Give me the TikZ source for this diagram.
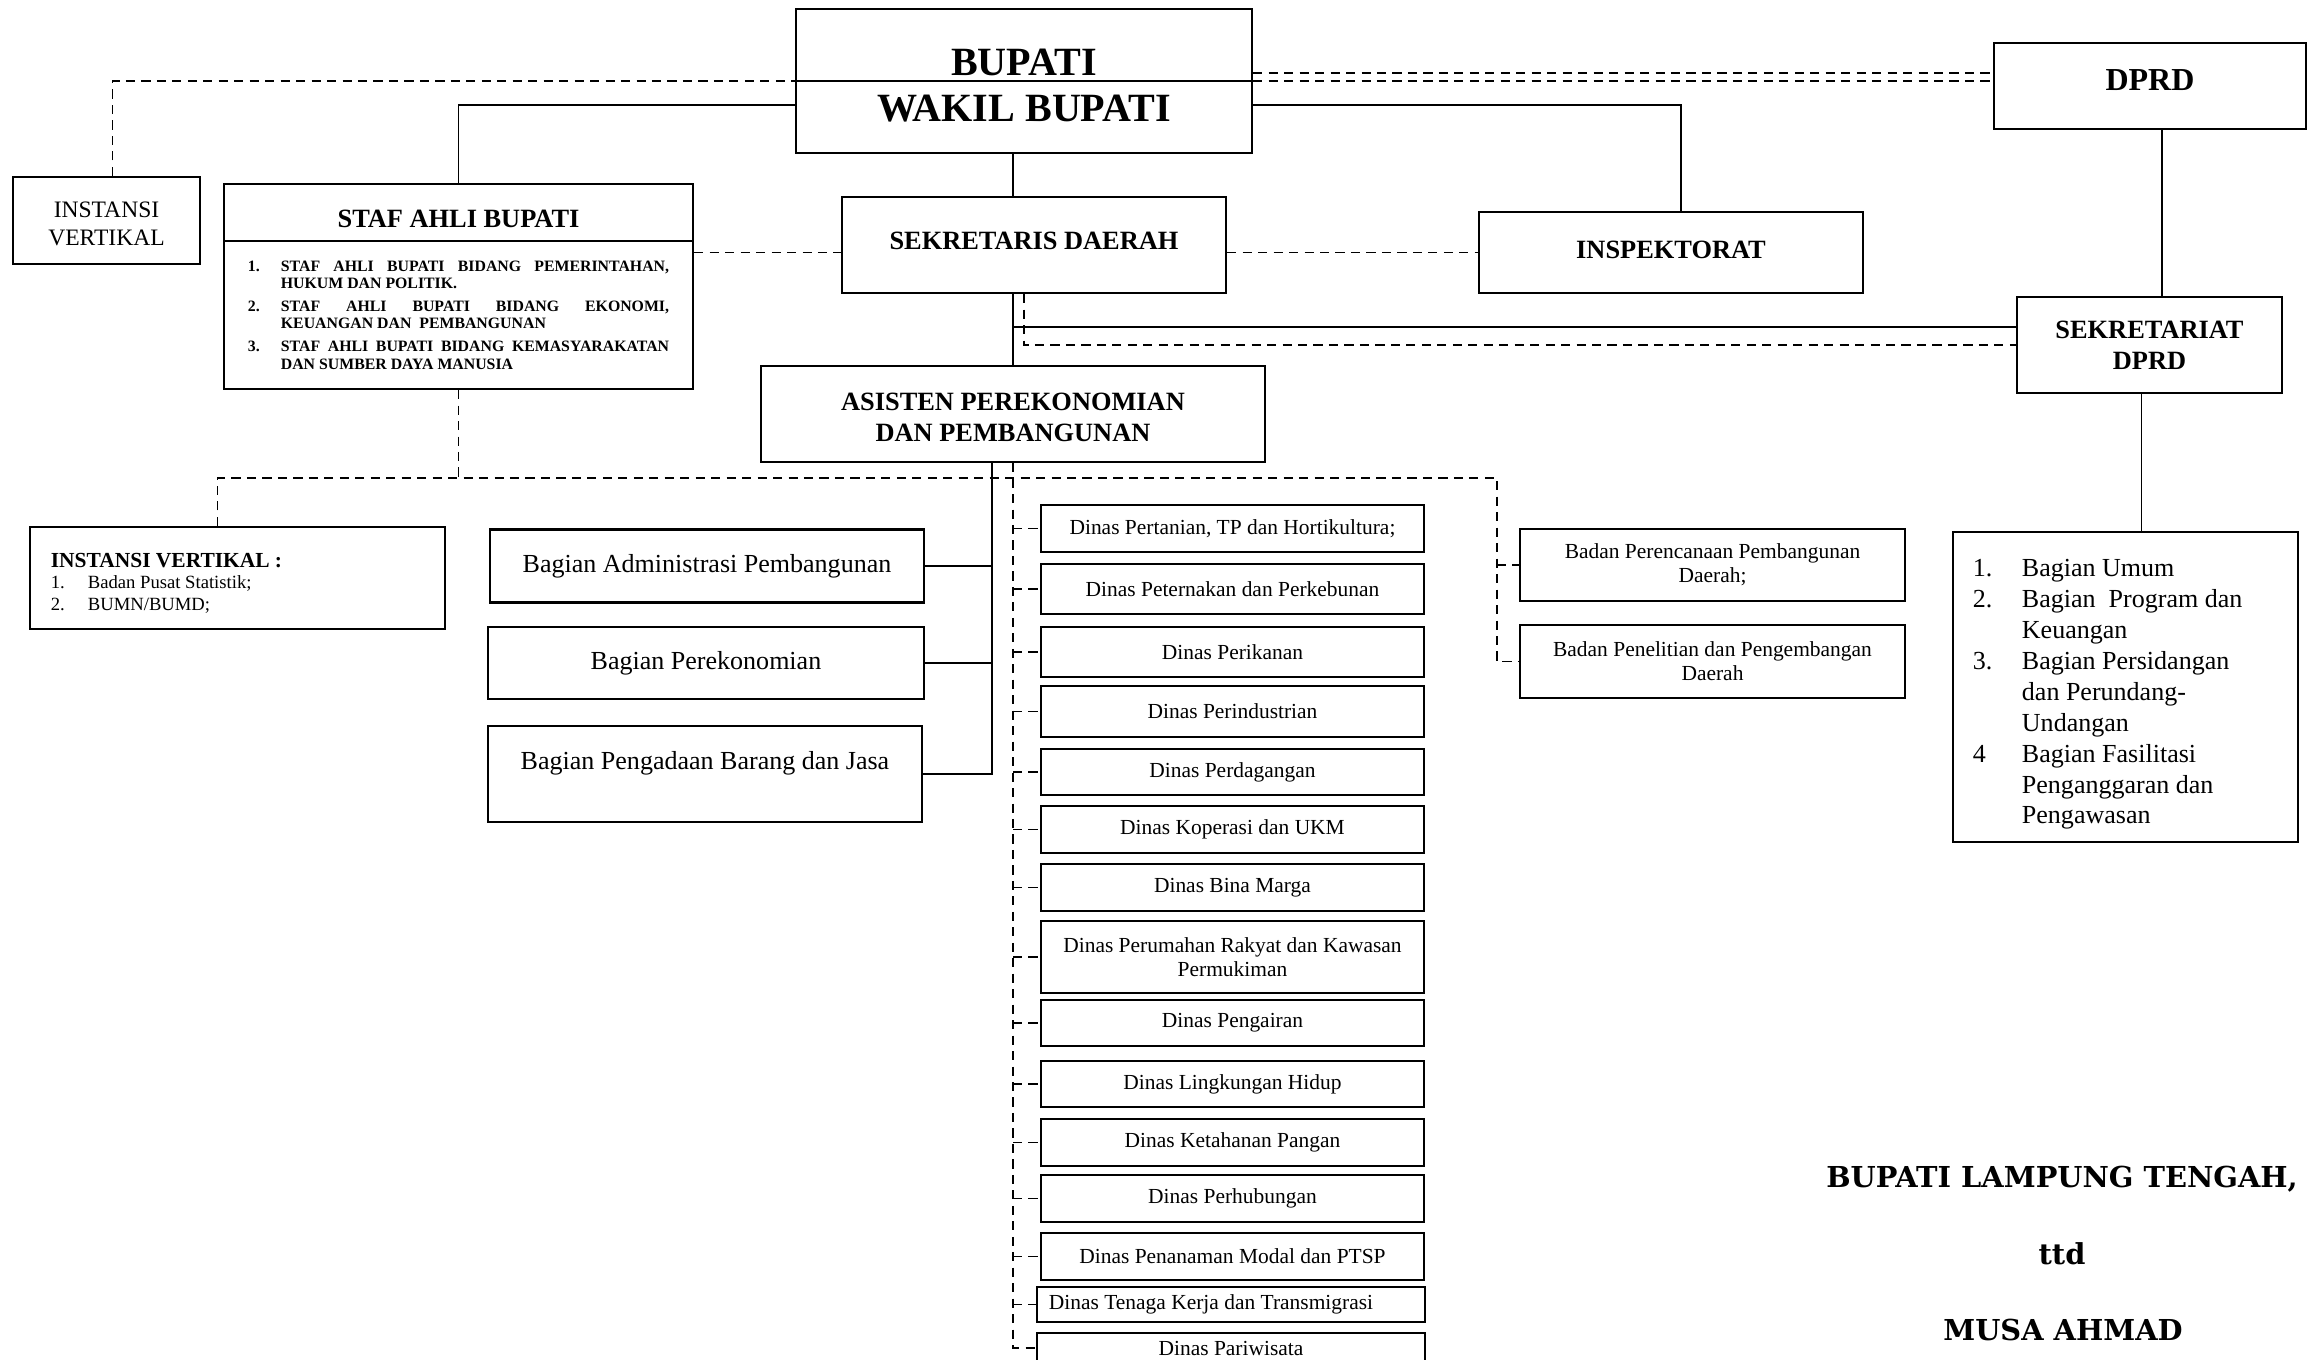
\documentclass[tikz,border=0pt]{standalone}
\usepackage{fontspec}
\setmainfont{Liberation Serif}
\newfontfamily\ttdfont{DejaVu Serif}
\newcommand{\fbup}{\fontsize{11.4}{13}\selectfont\bfseries}
\newcommand{\fjdl}{\fontsize{7.5}{8.9}\selectfont\bfseries}
\newcommand{\fbag}{\fontsize{7.4}{9}\selectfont}
\newcommand{\fdns}{\fontsize{6.1}{6.8}\selectfont}
\newcommand{\fstaf}{\fontsize{4.5}{4.9}\selectfont\bfseries}
\newcommand{\fttd}{\ttdfont\fontsize{8.2}{10}\selectfont\bfseries}
\newcommand{\butir}[2]{\hangindent=0.33cm\hangafter=1\noindent\makebox[0.33cm][l]{#1}#2\par}
\newcommand{\geser}[2]{\raisebox{#1}[\height][\depth]{#2}}

\begin{document}
\begin{tikzpicture}[x=0.01cm,y=-0.01cm,
  kotak/.style={draw,line width=0.6pt,inner sep=0pt,align=center},
  garis/.style={line width=0.45pt},
  putus/.style={line width=0.45pt,dash pattern=on 2.6pt off 1.8pt}]
  \useasboundingbox (0,0) rectangle (2314,1360);
  \clip (0,0) rectangle (2314,1360);
  % pimpinan
  \node[kotak,font=\fbup,minimum width=4.56cm,minimum height=1.44cm] (bupati) at (1024,81) {\geser{-0.045cm}{BUPATI}\\\geser{-0.045cm}{WAKIL BUPATI}};
  \draw[line width=0.6pt] (bupati.west) -- (bupati.east);
  \node[kotak,font=\fontsize{9.1}{10}\selectfont\bfseries,minimum width=3.12cm,minimum height=0.86cm] (dprd) at (2150,86) {\geser{0.06cm}{DPRD}};
  \node[kotak,font=\fontsize{6.7}{8}\selectfont,minimum width=1.87cm,minimum height=0.87cm] (instansi) at (106.5,220.5) {\geser{-0.03cm}{INSTANSI}\\\geser{-0.03cm}{VERTIKAL}};
  \node[kotak,font=\fjdl,minimum width=4.69cm,minimum height=0.57cm] (staf) at (458.5,212.5) {\geser{-0.06cm}{STAF AHLI BUPATI}};
  \node[kotak,font=\fstaf,align=justify,text width=4.21cm,inner xsep=0.24cm,minimum width=4.69cm,minimum height=1.48cm] (stafisi) at (458.5,315) {\setlength{\parskip}{1.7pt}%
    \butir{1.}{STAF AHLI BUPATI BIDANG PEMERINTAHAN,\linebreak HUKUM DAN POLITIK.}
    \butir{2.}{STAF AHLI BUPATI BIDANG EKONOMI,\linebreak KEUANGAN DAN\ \ PEMBANGUNAN}
    \butir{3.}{STAF AHLI BUPATI BIDANG KEMASYARAKATAN\linebreak DAN SUMBER DAYA MANUSIA}};
  \node[kotak,font=\fjdl,minimum width=3.84cm,minimum height=0.96cm] (sekda) at (1034,245) {\geser{0.045cm}{SEKRETARIS DAERAH}};
  \node[kotak,font=\fjdl,minimum width=3.84cm,minimum height=0.81cm] (inspektorat) at (1671,252.5) {\geser{0.03cm}{INSPEKTORAT}};
  \node[kotak,font=\fjdl,minimum width=2.65cm,minimum height=0.96cm] (sekdprd) at (2149.5,345) {SEKRETARIAT\\DPRD};
  \node[kotak,font=\fjdl,minimum width=5.04cm,minimum height=0.96cm] (asisten) at (1013,414) {\geser{-0.035cm}{ASISTEN PEREKONOMIAN}\\\geser{-0.035cm}{DAN PEMBANGUNAN}};

  % kiri
  \node[kotak,font=\fontsize{5.3}{6.2}\selectfont,align=flush left,text width=3.73cm,inner xsep=0.21cm,minimum width=4.15cm,minimum height=1.02cm] (instansi2) at (237.5,578) {%
    \geser{-0.065cm}{\begin{tabular}{@{}p{0.37cm}@{}l@{}}
      \multicolumn{2}{@{}l@{}}{\fontsize{6.1}{7.5}\selectfont\bfseries INSTANSI VERTIKAL :}\\
      1. & Badan Pusat Statistik;\\
      2. & BUMN/BUMD;
    \end{tabular}}};
  \node[kotak,font=\fbag,minimum width=4.34cm,minimum height=0.73cm] (bagadm) at (707,566) {Bagian Administrasi Pembangunan};
  \node[kotak,font=\fbag,minimum width=4.35cm,minimum height=0.72cm] (bagek) at (706,663) {Bagian Perekonomian};
  \node[kotak,font=\fbag,text depth=0.28cm,minimum width=4.34cm,minimum height=0.96cm] (bagpeng) at (705,774) {Bagian Pengadaan Barang dan Jasa};

  % dinas
  \node[kotak,font=\fdns,minimum width=3.83cm,minimum height=0.47cm] (pertanian) at (1232.5,528.5) {Dinas Pertanian, TP dan Hortikultura;};
  \node[kotak,font=\fdns,minimum width=3.83cm,minimum height=0.50cm] (peternakan) at (1232.5,589) {Dinas Peternakan dan Perkebunan};
  \node[kotak,font=\fdns,minimum width=3.83cm,minimum height=0.50cm] (perikanan) at (1232.5,652) {Dinas Perikanan};
  \node[kotak,font=\fdns,minimum width=3.83cm,minimum height=0.51cm] (perindustrian) at (1232.5,711.5) {Dinas Perindustrian};
  \node[kotak,font=\fdns,minimum width=3.83cm,minimum height=0.46cm] (perdagangan) at (1232.5,772) {Dinas Perdagangan};
  \node[kotak,font=\fdns,minimum width=3.83cm,minimum height=0.47cm] (koperasi) at (1232.5,829.5) {Dinas Koperasi dan UKM};
  \node[kotak,font=\fdns,minimum width=3.83cm,minimum height=0.47cm] (binamarga) at (1232.5,887.5) {Dinas Bina Marga};
  \node[kotak,font=\fdns,minimum width=3.83cm,minimum height=0.72cm] (perumahan) at (1232.5,957) {Dinas Perumahan Rakyat dan Kawasan\\Permukiman};
  \node[kotak,font=\fdns,minimum width=3.83cm,minimum height=0.46cm] (pengairan) at (1232.5,1023) {Dinas Pengairan};
  \node[kotak,font=\fdns,minimum width=3.83cm,minimum height=0.46cm] (lingkungan) at (1232.5,1084) {Dinas Lingkungan Hidup};
  \node[kotak,font=\fdns,minimum width=3.83cm,minimum height=0.47cm] (ketahanan) at (1232.5,1142.5) {Dinas Ketahanan Pangan};
  \node[kotak,font=\fdns,minimum width=3.83cm,minimum height=0.47cm] (perhubungan) at (1232.5,1198.5) {Dinas Perhubungan};
  \node[kotak,font=\fdns,minimum width=3.83cm,minimum height=0.47cm] (penanaman) at (1232.5,1256.5) {Dinas Penanaman Modal dan PTSP};
  \node[kotak,font=\fdns,align=flush left,text width=3.64cm,inner xsep=0.12cm,minimum width=3.88cm,minimum height=0.35cm] (tenagakerja) at (1231,1304.5) {Dinas Tenaga Kerja dan Transmigrasi};
  \node[kotak,font=\fdns,minimum width=3.88cm,minimum height=0.30cm] (pariwisata) at (1231,1348) {Dinas Pariwisata};

  % badan
  \node[kotak,font=\fdns,minimum width=3.85cm,minimum height=0.72cm] (perencanaan) at (1712.5,565) {Badan Perencanaan Pembangunan\\Daerah;};
  \node[kotak,font=\fdns,minimum width=3.85cm,minimum height=0.73cm] (penelitian) at (1712.5,661.5) {Badan Penelitian dan Pengembangan\\Daerah};

  % sekretariat dprd
  \node[kotak,font=\fontsize{7.4}{8.8}\selectfont,align=flush left,text width=3.05cm,inner xsep=0.2cm,minimum width=3.45cm,minimum height=3.10cm] (bagdprd) at (2125.5,687) {%
    \geser{-0.07cm}{\begin{tabular}{@{}p{0.49cm}@{}l@{}}
      1. & Bagian Umum\\
      2. & Bagian\ \ Program dan\\
         & Keuangan\\
      3. & Bagian Persidangan\\
         & dan Perundang-\\
         & Undangan\\
      4  & Bagian Fasilitasi\\
         & Penganggaran dan\\
         & Pengawasan
    \end{tabular}}};

  % tanda tangan
  \node[font=\fttd] (jabatan) at (2062,1179) {BUPATI LAMPUNG TENGAH,};
  \node[font=\fttd] (ttd) at (2062,1254) {ttd};
  \node[font=\fttd] (nama) at (2063,1330) {MUSA AHMAD};

  % garis atas
  \draw[putus] ([xshift=0.06cm]instansi.north) |- (bupati.west);
  \draw[garis] (staf.north) |- ([yshift=-0.24cm]bupati.west);
  \draw[putus] (bupati.east) -- (bupati.east -| dprd.west);
  \draw[putus] ([yshift=0.08cm]bupati.east) -- ([yshift=0.08cm]bupati.east -| dprd.west);
  \draw[garis] ([yshift=-0.24cm]bupati.east) -| ([xshift=0.1cm]inspektorat.north);
  \draw[garis] (bupati.south -| asisten.north) -- (sekda.north -| asisten.north);
  \draw[putus] (stafisi.east |- inspektorat.west) -- (sekda.west |- inspektorat.west);
  \draw[putus] (sekda.east |- inspektorat.west) -- (inspektorat.west);
  \draw[garis] (sekda.south -| asisten.north) -- (asisten.north);
  \draw[garis] ([yshift=0.18cm]sekdprd.west) -- ([yshift=0.18cm]sekdprd.west -| asisten.north);
  \draw[putus] ([xshift=-0.1cm]sekda.south) |- (sekdprd.west);
  \draw[garis] ([xshift=0.12cm]dprd.south) -- ([xshift=0.12cm]dprd.south |- sekdprd.north);
  \draw[garis] ([xshift=-0.08cm]sekdprd.south) -- ([xshift=-0.08cm]sekdprd.south |- bagdprd.north);

  % garis koordinasi bawah
  \coordinate (sudut) at (1497,478);
  \draw[putus] ([xshift=-0.2cm]instansi2.north) |- (sudut) |- (penelitian.west);
  \draw[putus] (stafisi.south) -- (stafisi.south |- sudut);
  \draw[putus] (sudut |- perencanaan.west) -- (perencanaan.west);

  % bagian
  \coordinate (bagspine) at ([xshift=-0.21cm]asisten.south);
  \draw[garis] (bagspine) |- (bagpeng.east);
  \draw[garis] (bagadm.east) -- (bagadm.east -| bagspine);
  \draw[garis] (bagek.east) -- (bagek.east -| bagspine);

  % dinas
  \draw[putus] (asisten.south) |- (pariwisata.west);
  \draw[putus] (asisten.south |- pertanian.west) -- (pertanian.west);
  \draw[putus] (asisten.south |- peternakan.west) -- (peternakan.west);
  \draw[putus] (asisten.south |- perikanan.west) -- (perikanan.west);
  \draw[putus] (asisten.south |- perindustrian.west) -- (perindustrian.west);
  \draw[putus] (asisten.south |- perdagangan.west) -- (perdagangan.west);
  \draw[putus] (asisten.south |- koperasi.west) -- (koperasi.west);
  \draw[putus] (asisten.south |- binamarga.west) -- (binamarga.west);
  \draw[putus] (asisten.south |- perumahan.west) -- (perumahan.west);
  \draw[putus] (asisten.south |- pengairan.west) -- (pengairan.west);
  \draw[putus] (asisten.south |- lingkungan.west) -- (lingkungan.west);
  \draw[putus] (asisten.south |- ketahanan.west) -- (ketahanan.west);
  \draw[putus] (asisten.south |- perhubungan.west) -- (perhubungan.west);
  \draw[putus] (asisten.south |- penanaman.west) -- (penanaman.west);
  \draw[putus] (asisten.south |- tenagakerja.west) -- (tenagakerja.west);
\end{tikzpicture}
\end{document}
